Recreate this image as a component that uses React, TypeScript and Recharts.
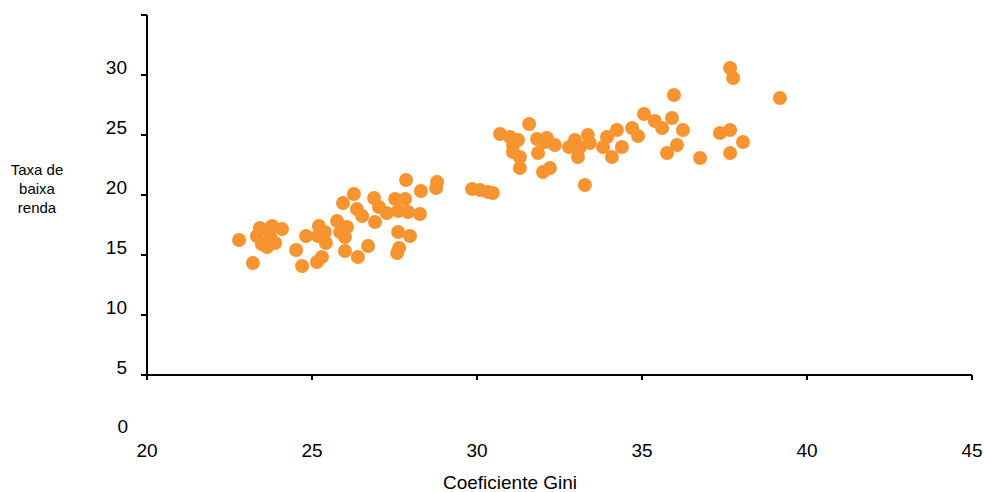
import React from "react";
import { ScatterChart, Scatter, XAxis, YAxis, Customized } from "recharts";

const giniValues: number[] = [
  22.79, 23.21, 23.33, 23.42, 23.79, 24.09, 23.48, 23.64, 23.88, 24.52,
  24.7, 24.82, 25.21, 25.18, 25.39, 25.3, 25.15, 25.42, 25.76, 25.85,
  26.06, 26.0, 25.94, 26.27, 26.36, 26.52, 26.0, 26.39, 26.7, 26.88,
  27.03, 27.27, 27.52, 27.82, 27.61, 27.91, 26.91, 27.61, 27.97, 27.64,
  27.58, 27.85, 28.3, 28.79, 28.76, 28.27, 23.73,
  29.85, 30.09, 30.33, 30.48, 30.7, 31.0, 31.24, 31.09, 31.3, 31.58,
  31.3, 31.82, 32.12, 32.36, 31.85, 32.0, 32.21, 32.79, 32.97, 33.12,
  33.36, 33.06, 33.27, 33.94, 34.24, 33.82, 34.09, 34.39, 34.7, 34.88,
  35.06, 35.39, 35.61, 35.91, 35.97, 36.24, 36.06, 35.76, 36.76, 37.36,
  37.67, 38.06, 37.67, 37.67, 37.76, 39.18, 33.42, 31.09, 32.06,
];

const lowIncomeValues: number[] = [
  16.25, 14.33, 16.58, 17.25, 17.42, 17.17, 15.92, 15.67, 16.0, 15.42,
  14.08, 16.58, 17.42, 16.58, 16.92, 14.83, 14.42, 16.0, 17.83, 16.92,
  17.33, 16.5, 19.33, 20.08, 18.83, 18.25, 15.33, 14.83, 15.75, 19.75,
  19.0, 18.5, 19.67, 19.67, 18.67, 18.58, 17.75, 16.92, 16.58, 15.58,
  15.17, 21.25, 20.33, 21.08, 20.58, 18.42, 16.58,
  20.5, 20.42, 20.25, 20.17, 25.08, 24.83, 24.58, 23.58, 23.17, 25.92,
  22.25, 24.67, 24.75, 24.17, 23.5, 21.92, 22.25, 24.0, 24.58, 24.0,
  25.0, 23.17, 20.83, 24.83, 25.42, 24.0, 23.17, 24.0, 25.58, 24.92,
  26.75, 26.17, 25.58, 26.42, 28.33, 25.42, 24.17, 23.5, 23.08, 25.17,
  25.42, 24.42, 23.5, 30.58, 29.75, 28.08, 24.33, 24.17, 24.42,
];

const xTicks: number[] = [20, 25, 30, 35, 40, 45];
const yTicks: number[] = [5, 10, 15, 20, 25, 30, 35];
const yTickLabels: number[] = [5, 10, 15, 20, 25, 30];
const zeroLabel = "0";
const xTitle = "Coeficiente Gini";
const yTitleLines: string[] = ["Taxa de", "baixa", "renda"];

const data = giniValues.map((g, i) => ({ gini: g, rate: lowIncomeValues[i] }));

const FONT = "Arial, 'Liberation Sans', sans-serif";
const ORANGE = "#F7942F";

const XTick = (props: any) => {
  const { x, payload } = props;
  return (
    <text x={x} y={457} textAnchor="middle" fontFamily={FONT} fontSize={19} fill="#000">
      {payload.value}
    </text>
  );
};

const YTick = (props: any) => {
  const { x, y, payload } = props;
  if (!yTickLabels.includes(payload.value)) return <g />;
  return (
    <g>
      <text x={x} y={y - 1} textAnchor="end" fontFamily={FONT} fontSize={19} fill="#000">
        {payload.value}
      </text>
      {payload.value === 5 ? (
        <text x={x + 1} y={y + 58} textAnchor="end" fontFamily={FONT} fontSize={19} fill="#000">
          {zeroLabel}
        </text>
      ) : null}
    </g>
  );
};

const Titles = () => (
  <g>
    <text x={510} y={489} textAnchor="middle" fontFamily={FONT} fontSize={19} fill="#000">
      {xTitle}
    </text>
    {yTitleLines.map((t, i) => (
      <text key={t} x={37} y={175 + i * 19} textAnchor="middle" fontFamily={FONT} fontSize={15} fill="#000">
        {t}
      </text>
    ))}
  </g>
);

const Dot = (props: any) => <circle cx={props.cx} cy={props.cy} r={7} fill={ORANGE} />;

export default function App() {
  return (
    <div style={{ position: "absolute", left: 0, top: 0, background: "#fff" }}>
      <ScatterChart width={984} height={492} margin={{ top: 15, right: 12, bottom: 0, left: 0 }}>
        <XAxis
          type="number"
          dataKey="gini"
          domain={[20, 45]}
          ticks={xTicks}
          interval={0}
          height={117}
          tickSize={5}
          tick={<XTick />}
          axisLine={{ stroke: "#000", strokeWidth: 2 }}
          tickLine={{ stroke: "#000", strokeWidth: 2 }}
          allowDataOverflow
        />
        <YAxis
          type="number"
          dataKey="rate"
          domain={[5, 35]}
          ticks={yTicks}
          interval={0}
          width={147}
          tickSize={6}
          tickMargin={14}
          tick={<YTick />}
          axisLine={{ stroke: "#000", strokeWidth: 2 }}
          tickLine={{ stroke: "#000", strokeWidth: 2 }}
          allowDataOverflow
        />
        <Scatter data={data} shape={<Dot />} isAnimationActive={false} />
        <Customized component={<Titles />} />
      </ScatterChart>
    </div>
  );
}
